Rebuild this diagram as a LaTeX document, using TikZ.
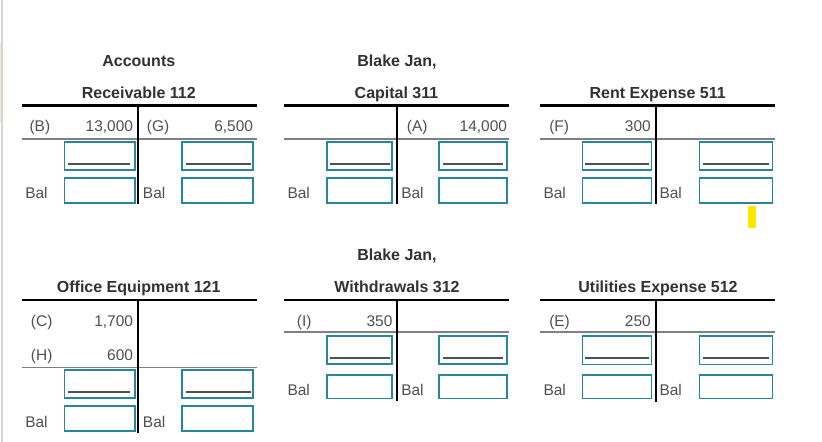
\documentclass[tikz,border=0pt]{standalone}
\usepackage{fontspec}
\setmainfont{Liberation Sans}
\usepackage{xcolor}
\usetikzlibrary{positioning}
\definecolor{titlegray}{RGB}{50,50,50}
\definecolor{textgray}{RGB}{80,80,80}
\definecolor{boxteal}{RGB}{38,134,160}
\definecolor{rulegray}{RGB}{128,128,128}
\definecolor{edgegray}{RGB}{212,212,224}
\definecolor{edgeyellow}{RGB}{250,236,190}
\definecolor{markyellow}{RGB}{255,230,0}

\begin{document}
\begin{tikzpicture}[
    x=0.75pt, y=-0.75pt,
    hd/.style={font=\fontsize{12}{14}\selectfont\bfseries, text=titlegray, anchor=base, inner sep=0pt},
    ref/.style={font=\fontsize{11.6}{14}\selectfont, text=textgray, anchor=base west, inner sep=0pt},
    amt/.style={ref, anchor=base east},
    topline/.style={line width=1.6pt, black},
    midline/.style={line width=1.1pt, rulegray},
    tline/.style={line width=1.5pt, black},
    ansbox/.style={draw=boxteal, line width=0.9pt, fill=white},
    blank/.style={line width=1.15pt, textgray},
  ]
    \useasboundingbox[fill=white] (0,0) rectangle (822,442);
    \fill[edgeyellow] (0,43) rectangle (1.2,123);
    \draw[edgegray, line width=0.9pt] (2,0) -- (2,442);
    \fill[markyellow] (748,206) rectangle (756,228);

    \node[hd] (arHeadA) at (138.8,67) {Accounts};
    \node[hd] (arHeadB) at (138.8,99) {Receivable 112};
    \draw[topline] (22,105.5) -- (257,105.5);
    \draw[midline] (22,139.2) -- (257,139.2);
    \draw[tline] (137.7,105) -- (137.7,204);
    \node[ref] (arB) at (29.3,131.5) {(B)};
    \node[amt] (arBAmt) at (133.3,131.5) {13,000};
    \node[ref] (arG) at (146.7,131.5) {(G)};
    \node[amt] (arGAmt) at (253.3,131.5) {6,500};
    \draw[ansbox] (64.3,142) rectangle (135,170);
    \draw[blank] (68.3,164) -- (130,164);
    \draw[ansbox] (182,142) rectangle (253,170);
    \draw[blank] (185.7,164) -- (250.7,164);
    \node[ref] (arBalL) at (25,199) {Bal};
    \draw[ansbox] (64.3,178) rectangle (135,203);
    \node[ref] (arBalR) at (142.7,199) {Bal};
    \draw[ansbox] (182,178) rectangle (253,203);

    \node[hd] (capHeadA) at (397,67) {Blake Jan,};
    \node[hd] (capHeadB) at (396.5,99) {Capital 311};
    \draw[topline] (284,105.5) -- (509,105.5);
    \draw[midline] (284,139.2) -- (509,139.2);
    \draw[tline] (397,105) -- (397,204);
    \node[ref] (capA) at (406.7,131.5) {(A)};
    \node[amt] (capAAmt) at (507.3,131.5) {14,000};
    \draw[ansbox] (327,142) rectangle (392,170);
    \draw[blank] (329.7,164) -- (390,164);
    \draw[ansbox] (439,142) rectangle (507,170);
    \draw[blank] (442.7,164) -- (503.3,164);
    \node[ref] (capBalL) at (287.3,199) {Bal};
    \draw[ansbox] (327,178) rectangle (392,203);
    \node[ref] (capBalR) at (401,199) {Bal};
    \draw[ansbox] (439,178) rectangle (507,203);

    \node[hd] (rentHead) at (657.7,99) {Rent Expense 511};
    \draw[topline] (540,105.5) -- (775,105.5);
    \draw[midline] (540,139.2) -- (775,139.2);
    \draw[tline] (656,105) -- (656,204);
    \node[ref] (rentF) at (549,131.5) {(F)};
    \node[amt] (rentFAmt) at (651,131.5) {300};
    \draw[ansbox] (582.3,142) rectangle (651.3,170);
    \draw[blank] (585,164) -- (649,164);
    \draw[ansbox] (699.3,142) rectangle (772.5,170);
    \draw[blank] (702.7,164) -- (769,164);
    \node[ref] (rentBalL) at (543.3,199) {Bal};
    \draw[ansbox] (582.3,178) rectangle (651.3,203);
    \node[ref] (rentBalR) at (659.3,199) {Bal};
    \draw[ansbox] (699.3,178) rectangle (772.5,203);

    \node[hd] (oeHead) at (138.7,292.5) {Office Equipment 121};
    \draw[topline] (22,300) -- (257,300);
    \draw[midline] (22,367.3) -- (257,367.3);
    \draw[tline] (137.7,299.5) -- (137.7,432.7);
    \node[ref] (oeC) at (30.7,327) {(C)};
    \node[amt] (oeCAmt) at (133.3,327) {1,700};
    \node[ref] (oeH) at (30.7,360.5) {(H)};
    \node[amt] (oeHAmt) at (133.3,360.5) {600};
    \draw[ansbox] (64.3,370) rectangle (135,398);
    \draw[blank] (68.3,392) -- (130,392);
    \draw[ansbox] (182,370) rectangle (253,398);
    \draw[blank] (185.7,392) -- (250.7,392);
    \node[ref] (oeBalL) at (25,427) {Bal};
    \draw[ansbox] (64.3,406) rectangle (135,431);
    \node[ref] (oeBalR) at (142.7,427) {Bal};
    \draw[ansbox] (182,406) rectangle (253,431);

    \node[hd] (wdHeadA) at (397,261) {Blake Jan,};
    \node[hd] (wdHeadB) at (397,292.7) {Withdrawals 312};
    \draw[topline] (284,300) -- (509,300);
    \draw[midline] (284,332) -- (509,332);
    \draw[tline] (397,299.5) -- (397,401.3);
    \node[ref] (wdI) at (296.7,326) {(I)};
    \node[amt] (wdIAmt) at (392.7,326) {350};
    \draw[ansbox] (327,336) rectangle (392,364);
    \draw[blank] (330,358) -- (390,358);
    \draw[ansbox] (439,336) rectangle (507,364);
    \draw[blank] (442.7,358) -- (503.3,358);
    \node[ref] (wdBalL) at (287.3,395) {Bal};
    \draw[ansbox] (327,375) rectangle (392,398.3);
    \node[ref] (wdBalR) at (401,395) {Bal};
    \draw[ansbox] (439,375) rectangle (507,398.3);

    \node[hd] (utHead) at (658,292.7) {Utilities Expense 512};
    \draw[topline] (540,300) -- (775,300);
    \draw[midline] (540,332) -- (775,332);
    \draw[tline] (656,299.5) -- (656,401.7);
    \node[ref] (utE) at (549,326) {(E)};
    \node[amt] (utEAmt) at (651,326) {250};
    \draw[ansbox] (582.3,336) rectangle (651.3,364.3);
    \draw[blank] (585,358) -- (649,358);
    \draw[ansbox] (699.3,336) rectangle (772.7,364.3);
    \draw[blank] (703.3,358) -- (769,358);
    \node[ref] (utBalL) at (543.3,395) {Bal};
    \draw[ansbox] (582.3,375) rectangle (651.3,398.3);
    \node[ref] (utBalR) at (659.3,395) {Bal};
    \draw[ansbox] (699.3,375) rectangle (772.7,398.3);
  \end{tikzpicture}
\end{document}
